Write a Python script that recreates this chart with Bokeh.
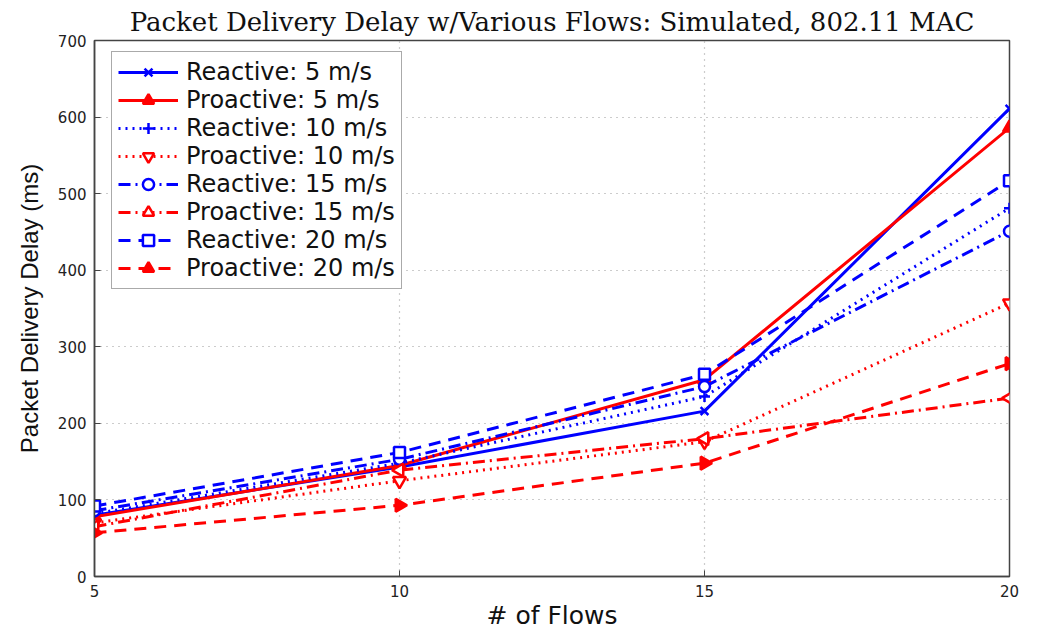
import math
from bokeh.plotting import figure
from bokeh.models import Legend, LegendItem, Range1d, FixedTicker, Title
from bokeh.embed import file_html
from bokeh.resources import INLINE

flows = [5, 10, 15, 20]
reactive_5 = [80, 143, 216, 611]
proactive_5 = [78, 145, 257, 586]
reactive_10 = [82, 148, 235, 481]
proactive_10 = [70, 125, 176, 357]
reactive_15 = [86, 153, 248, 451]
proactive_15 = [65, 139, 180, 233]
reactive_20 = [92, 162, 264, 517]
proactive_20 = [57, 93, 148, 278]

series = [
    ("Reactive: 5 m/s", reactive_5, "blue", "solid", "x", 0, True),
    ("Proactive: 5 m/s", proactive_5, "red", "solid", "triangle", 0, True),
    ("Reactive: 10 m/s", reactive_10, "blue", "dotted", "cross", 0, True),
    ("Proactive: 10 m/s", proactive_10, "red", "dotted", "inverted_triangle", 0, False),
    ("Reactive: 15 m/s", reactive_15, "blue", "dashdot", "circle", 0, False),
    ("Proactive: 15 m/s", proactive_15, "red", "dashdot", "triangle", math.pi / 2, False),
    ("Reactive: 20 m/s", reactive_20, "blue", "dashed", "square", 0, False),
    ("Proactive: 20 m/s", proactive_20, "red", "dashed", "triangle", -math.pi / 2, True),
]

dash_map = {"solid": "solid", "dotted": "2 5", "dashdot": "12 5 2 5", "dashed": "12 8"}
col_map = {"blue": "#0000ff", "red": "#ff0000"}

p = figure(frame_width=915, frame_height=536, output_backend="svg",
           toolbar_location=None, x_range=Range1d(5, 20), y_range=Range1d(0, 700),
           min_border_left=94, min_border_right=18, min_border_top=34, min_border_bottom=0)
p.background_fill_color = "white"
p.border_fill_color = "white"
p.outline_line_color = "#444444"
p.outline_line_width = 1.5

p.title = Title(text="Packet Delivery Delay w/Various Flows: Simulated, 802.11 MAC",
                text_font="DejaVu Serif", text_font_size="26px", text_font_style="normal",
                align="center", text_color="#111111", standoff=8)

p.xaxis.ticker = FixedTicker(ticks=flows)
p.yaxis.ticker = FixedTicker(ticks=list(range(0, 701, 100)))
for ax in (p.xaxis[0], p.yaxis[0]):
    ax.major_label_text_font = "DejaVu Sans"
    ax.major_label_text_font_size = "15px"
    ax.major_label_text_color = "#222222"
    ax.axis_line_color = "#444444"
    ax.axis_line_width = 1.5
    ax.major_tick_line_color = "#444444"
    ax.major_tick_in = 6
    ax.major_tick_out = 0
    ax.major_label_standoff = 8
    ax.minor_tick_line_color = None
    ax.axis_label_text_font_style = "normal"
    ax.axis_label_text_color = "#111111"

p.xaxis.axis_label = "# of Flows"
p.xaxis.axis_label_text_font = "DejaVu Sans"
p.xaxis.axis_label_text_font_size = "25px"
p.xaxis.axis_label_standoff = 1
p.yaxis.axis_label = "Packet Delivery Delay (ms)"
p.yaxis.axis_label_text_font = "Liberation Sans"
p.yaxis.axis_label_text_font_size = "24px"
p.yaxis.axis_label_standoff = 12

p.grid.grid_line_color = "#999999"
p.grid.grid_line_dash = "1 5"
p.grid.grid_line_width = 1.2

items = []
for label, vals, col, dash, marker, ang, filled in series:
    c = col_map[col]
    ln = p.line(flows, vals, line_color=c, line_width=3, line_dash=dash_map[dash])
    sz = 13 if marker in ("triangle", "inverted_triangle") else 11
    sc = p.scatter(flows, vals, marker=marker, size=sz, angle=ang,
                   line_color=c, line_width=2.5,
                   fill_color=c if filled else "white")
    items.append(LegendItem(label=label, renderers=[ln, sc]))

legend = Legend(items=items, location=(17, 287), orientation="vertical")
legend.label_text_font = "DejaVu Sans"
legend.label_text_font_size = "24px"
legend.label_text_color = "#111111"
legend.glyph_width = 60
legend.glyph_height = 28
legend.label_height = 28
legend.spacing = 0
legend.padding = 6
legend.margin = 0
legend.label_standoff = 8
legend.border_line_color = "#555555"
legend.border_line_width = 1.2
legend.background_fill_alpha = 1.0
p.add_layout(legend, "center")

open("out.html", "w").write(file_html(p, INLINE))
